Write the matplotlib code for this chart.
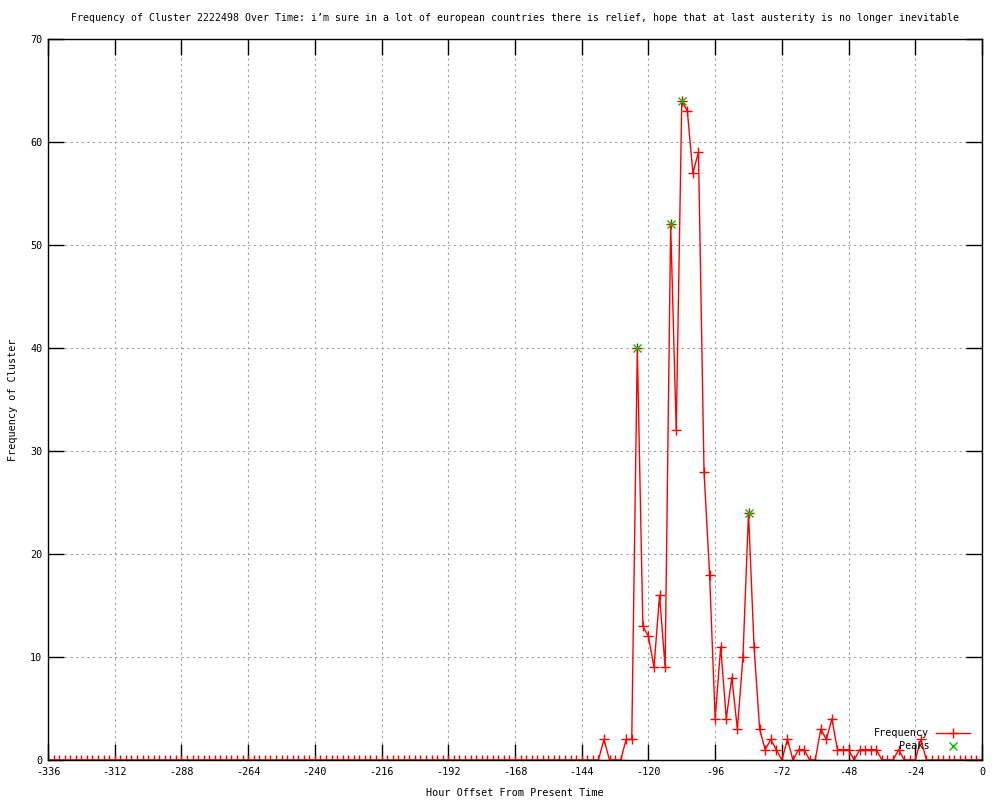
import numpy as np
import matplotlib
matplotlib.use("Agg")
import matplotlib.pyplot as plt

# ---- data ----
hours = np.arange(-336, 1, 2)
frequency = [
    0, 0, 0, 0, 0, 0, 0, 0, 0, 0, 0, 0, 0, 0, 0, 0, 0, 0, 0, 0,
    0, 0, 0, 0, 0, 0, 0, 0, 0, 0, 0, 0, 0, 0, 0, 0, 0, 0, 0, 0,
    0, 0, 0, 0, 0, 0, 0, 0, 0, 0, 0, 0, 0, 0, 0, 0, 0, 0, 0, 0,
    0, 0, 0, 0, 0, 0, 0, 0, 0, 0, 0, 0, 0, 0, 0, 0, 0, 0, 0, 0,
    0, 0, 0, 0, 0, 0, 0, 0, 0, 0, 0, 0, 0, 0, 0, 0, 0, 0, 0, 0,
    # -136 .. 0
    2, 0, 0, 0, 2, 2, 40, 13, 12, 9, 16, 9, 52, 32, 64, 63, 57, 59, 28, 18,
    4, 11, 4, 8, 3, 10, 24, 11, 3, 1, 2, 1, 0, 2, 0, 1, 1, 0, 0, 3,
    2, 4, 1, 1, 1, 0, 1, 1, 1, 1, 0, 0, 0, 1, 0, 0, 0, 2, 0, 0,
    0, 0, 0, 0, 0, 0, 0, 0, 0,
]
peak_hours = [-124, -112, -108, -84]
peak_values = [40, 52, 64, 24]

x_ticks = list(range(-336, 1, 24))
y_ticks = list(range(0, 71, 10))

title = ("Frequency of Cluster 2222498 Over Time: i\u2019m sure in a lot of european "
         "countries there is relief, hope that at last austerity is no longer inevitable")

FONT = "DejaVu Sans Mono"
FS = 7.3
FS_TITLE = 7.15

fig = plt.figure(figsize=(10, 8), dpi=100)
ax = fig.add_axes([0.048, 0.05, 0.934, 0.90125])

ax.plot(hours, frequency, color="#ff0000", lw=1.0, marker="+", ms=7, mew=1.0,
        label="Frequency")
ax.plot(peak_hours, peak_values, linestyle="none", color="#00c000", marker="x",
        ms=5.5, mew=1.0, label="Peaks")

ax.set_xlim(-336, 0)
ax.set_ylim(0, 70)
ax.set_xticks(x_ticks)
ax.set_yticks(y_ticks)
ax.set_xticklabels([str(t) for t in x_ticks], fontfamily=FONT, fontsize=FS)
ax.set_yticklabels([str(t) for t in y_ticks], fontfamily=FONT, fontsize=FS)
ax.tick_params(axis="both", which="major", direction="in", length=11.5, width=1,
               color="black", top=True, right=True, pad=4)
ax.tick_params(axis="x", pad=5)
ax.grid(True, color="#a0a0a0", linestyle=(0, (2, 3)), lw=0.8)
ax.set_axisbelow(True)
for s in ax.spines.values():
    s.set_linewidth(1)
    s.set_color("black")

cx = 0.048 + 0.934 / 2
fig.text(cx, 1 - 18 / 800, title, ha="center", va="center", fontfamily=FONT,
         fontsize=FS_TITLE)
fig.text(cx, 1 - 793 / 800, "Hour Offset From Present Time", ha="center", va="center",
         fontfamily=FONT, fontsize=FS)
fig.text(13 / 1000, 0.5, "Frequency of Cluster", ha="center", va="center", rotation=90,
         fontfamily=FONT, fontsize=FS)

leg = ax.legend(loc="lower right", bbox_to_anchor=(1 - 0.013, 0.012), frameon=False,
                markerfirst=False, numpoints=1, handlelength=3.3, handletextpad=0.7,
                labelspacing=0.3, borderpad=0, borderaxespad=0,
                prop={"family": FONT, "size": FS})

fig.savefig("out.png", dpi=100)
